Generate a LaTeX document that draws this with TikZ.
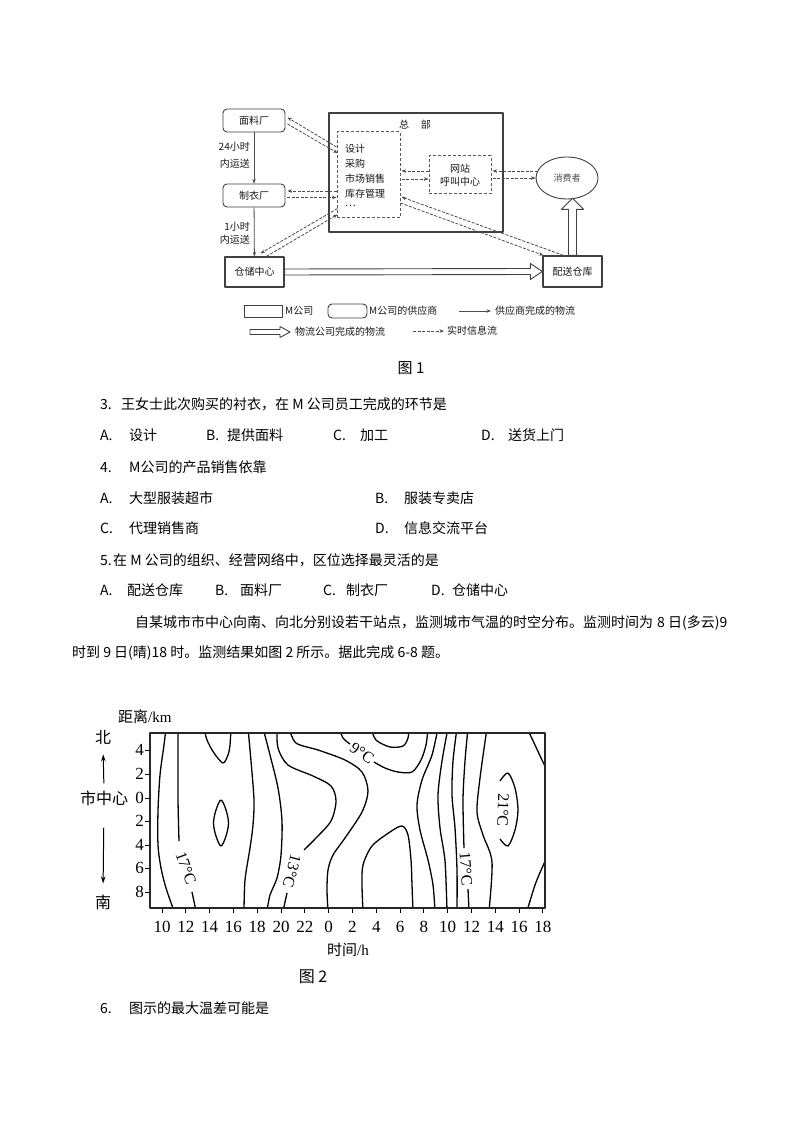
\documentclass[tikz,border=0pt]{standalone}
\usepackage{fontspec}
\setmainfont{Liberation Serif}
\newfontfamily\cjk{Noto Sans CJK SC}
\usetikzlibrary{arrows.meta,calc,shapes.geometric}
\begin{document}
\begin{tikzpicture}[x=1pt,y=-1pt,line join=round,
  supbox/.style={draw=black!75, line width=0.9pt, rounded corners=4pt, inner sep=0pt, font=\cjk\fontsize{10}{10}\selectfont, text=black!90},
  mbox/.style={draw=black!75, line width=1.3pt, inner sep=0pt, font=\cjk\fontsize{10}{10}\selectfont, text=black!90},
  dbox/.style={draw=black!65, line width=1pt, dash pattern=on 3pt off 2pt, inner sep=0pt},
  lbl/.style={inner sep=0pt, font=\cjk\fontsize{10}{10}\selectfont, text=black!90},
  info/.style={draw=black!70, line width=0.8pt, dash pattern=on 3pt off 1.5pt, -{Stealth[length=4.5pt,width=3.5pt]}},
  supply/.style={draw=black!70, line width=0.8pt, -{Stealth[length=4.5pt,width=3.5pt]}},
  hollow/.style={draw=black!75, line width=0.9pt, fill=white},
  qt/.style={anchor=base west, inner sep=0pt, font=\cjk\fontsize{14}{14}\selectfont},
  cl/.style={line width=1.3pt, black},
  clab/.style={inner sep=0.5pt, font=\fontsize{16}{16}\selectfont},
  tick/.style={inner sep=0pt, font=\fontsize{17}{17}\selectfont},
  axl/.style={inner sep=0pt, font=\cjk\fontsize{16}{16}\selectfont}]
\useasboundingbox[fill=white] (0,0) rectangle (794,1123);

% ================= Figure 1 =================
\node[supbox, minimum width=62pt, minimum height=23pt] (mlc) at (254,120.5) {面料厂};
\node[supbox, minimum width=62pt, minimum height=23pt] (zyc) at (254,195.5) {制衣厂};
\node[mbox, minimum width=59pt, minimum height=30pt] (ccz) at (254.5,272) {仓储中心};
\node[mbox, minimum width=59pt, minimum height=31pt] (psc) at (572.5,271.5) {配送仓库};
\node[mbox, minimum width=174pt, minimum height=119pt] (zb) at (416,172.5) {};
\node[lbl] (zbt) at (415,125) {总\hspace{1.2em}部};
\node[dbox, minimum width=63pt, minimum height=86pt] (inner) at (368.5,175) {};
\node[lbl, anchor=west] (i1) at (345,149) {设计};
\node[lbl, anchor=west] (i2) at (345,164) {采购};
\node[lbl, anchor=west] (i3) at (345,179) {市场销售};
\node[lbl, anchor=west] (i4) at (345,194) {库存管理};
\node[lbl, anchor=west] (i5) at (345,206) {…};
\node[dbox, minimum width=62pt, minimum height=38pt] (wz) at (460,175) {};
\node[lbl] (wz1) at (460,169) {网站};
\node[lbl] (wz2) at (460,181.5) {呼叫中心};
\node[ellipse, draw=black!75, line width=0.9pt, minimum width=62pt, minimum height=42pt, inner sep=0pt, font=\cjk\fontsize{9}{9}\selectfont, text=black!70] (xfz) at (567,178) {消费者};

% supplier logistics
\draw[supply] (mlc) -- (zyc);
\draw[supply] (zyc) -- (ccz);
\node[lbl, anchor=east] (l24a) at (250,147) {24小时};
\node[lbl, anchor=east] (l24b) at (250,164) {内运送};
\node[lbl, anchor=east] (l1a) at (250,227) {1小时};
\node[lbl, anchor=east] (l1b) at (250,240) {内运送};

% logistics company (hollow arrows)
\draw[hollow] ($(ccz.east)+(0,-3)$) -- ($(psc.west)+(-12,-3)$) -- ($(psc.west)+(-12,-8)$) -- (psc.west)
  -- ($(psc.west)+(-12,8)$) -- ($(psc.west)+(-12,3)$) -- ($(ccz.east)+(0,3)$) -- cycle;
\coordinate (vt) at ($(psc.north)+(0,-57)$);
\draw[hollow] ($(psc.north)+(-4,0)$) -- ($(vt)+(-4,11)$) -- ($(vt)+(-11,11)$) -- (vt)
  -- ($(vt)+(11,11)$) -- ($(vt)+(4,11)$) -- ($(psc.north)+(4,0)$) -- cycle;

% real-time information flows
\draw[info] ($(inner.west)+(0,-28)$) -- ($(mlc.east)+(2,-3)$);
\draw[info] ($(mlc.east)+(2,3.5)$) -- ($(inner.west)+(1,-22)$);
\draw[info] ($(inner.west)+(0,16)$) -- ($(zyc.east)+(2,-4.5)$);
\draw[info] ($(zyc.east)+(2,2)$) -- ($(inner.west)+(0,22.5)$);
\draw[info] ($(inner.south west)+(1,-10)$) -- ($(ccz.north)+(6,-3)$);
\draw[info] ($(ccz.north)+(12,0)$) -- ($(inner.south west)+(1,-4)$);
\draw[info] ($(wz.west)+(0,-4)$) -- ($(inner.east)+(1,-4)$);
\draw[info] ($(inner.east)+(1,4)$) -- ($(wz.west)+(0,4)$);
\draw[info] ($(xfz.west)+(2,-7)$) -- ($(wz.east)+(1,-4)$);
\draw[info] ($(wz.east)+(1,3)$) -- (xfz.west);
\draw[info] ($(psc.north west)+(21,0)$) -- ($(inner.east)+(1,22)$);
\draw[info] ($(inner.east)+(0,28)$) -- ($(psc.north west)+(1,0)$);

% legend
\node[mbox, line width=1pt, minimum width=38pt, minimum height=12pt] (lg1) at (263,311) {};
\node[lbl, anchor=west] (lg1t) at (285,311) {M公司};
\node[supbox, minimum width=39pt, minimum height=14pt] (lg2) at (347.5,311) {};
\node[lbl, anchor=west] (lg2t) at (369,311) {M公司的供应商};
\coordinate (lg3a) at (459,311);
\coordinate (lg3b) at (491,311);
\draw[supply] (lg3a) -- (lg3b);
\node[lbl, anchor=west] (lg3t) at (495,311) {供应商完成的物流};
\coordinate (lg4a) at (250,332);
\coordinate (lg4b) at (290,332);
\draw[hollow] ($(lg4a)+(0,-2.5)$) -- ($(lg4b)+(-10,-2.5)$) -- ($(lg4b)+(-10,-5.5)$) -- (lg4b)
  -- ($(lg4b)+(-10,5.5)$) -- ($(lg4b)+(-10,2.5)$) -- ($(lg4a)+(0,2.5)$) -- cycle;
\node[lbl, anchor=west] (lg4t) at (295,332) {物流公司完成的物流};
\coordinate (lg5a) at (413,331);
\coordinate (lg5b) at (444,331);
\draw[info] (lg5a) -- (lg5b);
\node[lbl, anchor=west] (lg5t) at (447,331) {实时信息流};
\node[inner sep=0pt, font=\cjk\fontsize{15}{15}\selectfont] (fig1) at (411,368) {图 1};

% ================= Questions =================
\node[qt] (q3n) at (100,409.5) {3.};
\node[qt] (q3) at (121,409.5) {王女士此次购买的衬衣，在 M 公司员工完成的环节是};
\node[qt] (q3A) at (100,440.5) {A.};
\node[qt] (q3At) at (129,440.5) {设计};
\node[qt] (q3B) at (206,440.5) {B.};
\node[qt] (q3Bt) at (227,440.5) {提供面料};
\node[qt] (q3C) at (333,440.5) {C.};
\node[qt] (q3Ct) at (360,440.5) {加工};
\node[qt] (q3D) at (481,440.5) {D.};
\node[qt] (q3Dt) at (508,440.5) {送货上门};
\node[qt] (q4n) at (100,472.5) {4.};
\node[qt] (q4) at (129,472.5) {M公司的产品销售依靠};
\node[qt] (q4A) at (100,503.5) {A.};
\node[qt] (q4At) at (129,503.5) {大型服装超市};
\node[qt] (q4B) at (375,503.5) {B.};
\node[qt] (q4Bt) at (404,503.5) {服装专卖店};
\node[qt] (q4C) at (100,533.5) {C.};
\node[qt] (q4Ct) at (129,533.5) {代理销售商};
\node[qt] (q4D) at (375,533.5) {D.};
\node[qt] (q4Dt) at (404,533.5) {信息交流平台};
\node[qt] (q5n) at (100,565.5) {5.};
\node[qt] (q5) at (113,565.5) {在 M 公司的组织、经营网络中，区位选择最灵活的是};
\node[qt] (q5A) at (100,595.5) {A.};
\node[qt] (q5At) at (127,595.5) {配送仓库};
\node[qt] (q5B) at (215,595.5) {B.};
\node[qt] (q5Bt) at (240,595.5) {面料厂};
\node[qt] (q5C) at (323,595.5) {C.};
\node[qt] (q5Ct) at (346,595.5) {制衣厂};
\node[qt] (q5D) at (431,595.5) {D.};
\node[qt] (q5Dt) at (452,595.5) {仓储中心};
\node[qt] (p1) at (135,627.5) {自某城市市中心向南、向北分别设若干站点，监测城市气温的时空分布。监测时间为};
\node[qt] (p1b) at (657,627.5) {8};
\node[qt] (p1c) at (668,627.5) {日(多云)9};
\node[qt] (p2) at (72,657.5) {时到 9 日(晴)18 时。监测结果如图 2 所示。据此完成 6-8 题。};
\node[qt] (q6n) at (100,1013.5) {6.};
\node[qt] (q6) at (129,1013.5) {图示的最大温差可能是};

% ================= Figure 2 =================
\node[inner sep=0pt, anchor=west] (ylab) at (118,717) {{\cjk\fontsize{15}{15}\selectfont 距离}{\fontsize{15}{15}\selectfont /km}};
\node[axl] (bei) at (103,737) {北};
\node[axl] (szx) at (104,798) {市中心};
\node[axl] (nan) at (103,902) {南};
\draw[line width=1pt, -{Stealth[length=7pt,width=4.5pt]}, shorten <=7pt, shorten >=10pt] (szx.north) -- (bei.south);
\draw[line width=1pt, -{Stealth[length=7pt,width=4.5pt]}, shorten <=22pt, shorten >=11pt] (szx.south) -- (nan.north);
\node[inner sep=0pt] (xlab) at (348,950) {{\cjk\fontsize{15}{15}\selectfont 时间}{\fontsize{15}{15}\selectfont /h}};
\node[inner sep=0pt, font=\cjk\fontsize{16}{16}\selectfont] (fig2) at (313,977) {图 2};

\foreach \i/\l in {0/10,1/12,2/14,3/16,4/18,5/20,6/22,7/0,8/2,9/4,10/6,11/8,12/10,13/12,14/14,15/16,16/18} {
  \draw[line width=1pt] ({162+\i*23.81},908) -- ({162+\i*23.81},913);
  \node[tick] (xt\i) at ({162+\i*23.81},927) {\l};
}
\foreach \y/\l [count=\k] in {750/4,774/2,798/0,821/2,845/4,868/6,892/8} {
  \draw[line width=1pt] (145,\y) -- (150,\y);
  \node[tick, anchor=east] (yt\k) at (144,\y) {\l};
}

\begin{scope}
\clip (150,733) rectangle (545,908);
\draw[cl] plot[smooth] coordinates {(166,728) (164,745) (160,775) (158,811) (158,845) (161,868) (166,888) (174,911)};
\draw[cl] plot[smooth] coordinates {(178,728) (178,761) (178,800) (179,841)};
\draw[cl] plot[smooth] coordinates {(192,892) (196,911)};
\draw[cl] plot[smooth] coordinates {(204,728) (207,740) (214,753) (223,763) (228,755) (230,745) (231,728)};
\draw[cl] plot[smooth cycle, tension=0.55] coordinates {(221,800) (226,810) (228.5,823) (226,836) (221,846) (216,836) (213.5,823) (216,810)};
\draw[cl] plot[smooth] coordinates {(248,728) (251,761) (254,800) (253,825) (250,848) (245,880) (244,911)};
\draw[cl] plot[smooth] coordinates {(263,728) (270,755) (278,788) (282,821) (281,855) (277,878) (270,895) (267,911)};
\draw[cl] plot[smooth] coordinates {(277,728) (278,748) (288,765) (313,776) (331,786) (336,801) (331,821) (316,838) (304,850)};
\draw[cl] plot[smooth] coordinates {(287,893) (283,911)};
\draw[cl] plot[smooth] coordinates {(289,728) (296,743) (318,750) (345,760) (362,772) (368,791) (362,812) (345,838) (333,855) (328,870) (327,890) (328,911)};
\draw[cl] plot[smooth] coordinates {(339,728) (343,738) (350,744)};
\draw[cl] plot[smooth] coordinates {(374,762) (385,768) (398,772) (412,772) (421,760) (426,745) (428,728)};
\draw[cl] plot[smooth] coordinates {(371,728) (376,740) (390,747) (403,746) (408,738) (409,728)};
\draw[cl] plot[smooth] coordinates {(363,911) (362,885) (363,865) (372,846) (390,832) (402,826) (408,835) (411,860) (412,885) (413,911)};
\draw[cl] plot[smooth] coordinates {(438,728) (432,755) (422,780) (417,805) (420,830) (428,860) (433,885) (435,911)};
\draw[cl] plot[smooth] coordinates {(448,728) (442,761) (438,795) (440,828) (445,861) (447,911)};
\draw[cl] plot[smooth] coordinates {(457,728) (453,761) (452,795) (455,828) (457,870) (457,911)};
\draw[cl] plot[smooth] coordinates {(468,728) (465,761) (463,800) (464,848)};
\draw[cl] plot[smooth] coordinates {(468,889) (469,911)};
\draw[cl] plot[smooth] coordinates {(487,728) (480,778) (477,812) (483,835) (492,862) (489,911)};
\draw[cl] plot[smooth, tension=0.5] coordinates {(500,781) (508,773) (515,788) (518,810) (515,830) (508,846) (500,839)};
\draw[cl] plot[smooth] coordinates {(527,728) (535,745) (542,760) (548,772)};
\draw[cl] plot[smooth] coordinates {(548,855) (542,868) (535,885) (527,911)};
\end{scope}
\draw[line width=1.3pt, black!85] (150,733) rectangle (545,908);

\node[clab, rotate=-70] (c17a) at (186,868) {17°C};
\node[clab, rotate=-105] (c13) at (292,871) {13°C};
\node[clab, rotate=-35] (c9) at (362,753) {9°C};
\node[clab, rotate=-86] (c17b) at (466,869) {17°C};
\node[clab, rotate=-92] (c21) at (503,810) {21°C};
\end{tikzpicture}
\end{document}
